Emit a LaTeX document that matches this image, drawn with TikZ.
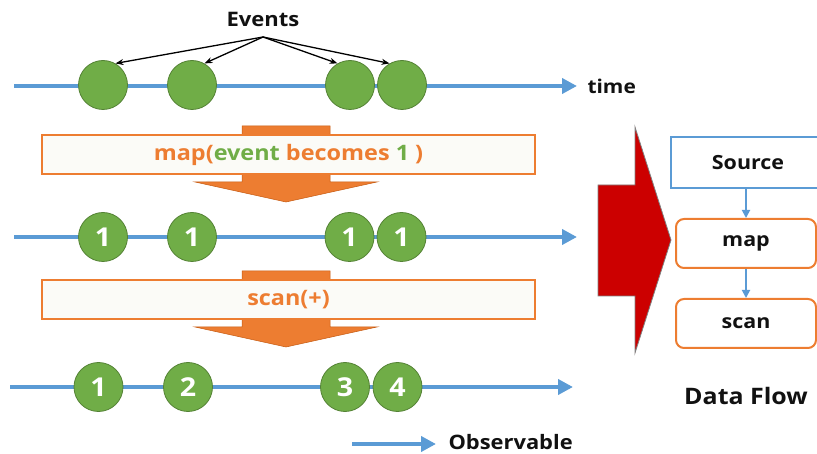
\documentclass[tikz,border=0pt]{standalone}
\usepackage{fontspec}
\setmainfont{Open Sans}[BoldFont={Open Sans Bold}, FakeStretch=1.1]
\usetikzlibrary{arrows.meta}
\definecolor{lineblue}{HTML}{5B9BD5}
\definecolor{evgreen}{HTML}{70AD47}
\definecolor{evgreenline}{HTML}{548235}
\definecolor{opor}{HTML}{ED7D31}
\definecolor{opordark}{HTML}{C55A11}
\definecolor{boxfill}{HTML}{FBFBF7}
\definecolor{flowred}{HTML}{CC0000}
\definecolor{txt}{HTML}{111111}
\newcommand{\fs}[1]{\fontsize{#1}{#1}\selectfont\bfseries}
\tikzset{
  timeline/.style={draw=lineblue, line width=4.5pt, -{Triangle[length=15pt,width=15pt]}},
  event/.style={circle, fill=evgreen, draw=evgreenline, line width=0.8pt, minimum size=49pt, inner sep=0pt,
    text=white, font=\fs{26}},
  label/.style={text=txt, font=\fs{20}},
  pointer/.style={draw=black, line width=1.3pt, -{Stealth[length=8pt,width=6pt]}},
  opbox/.style={draw=opor, fill=boxfill, line width=2.2pt, minimum width=493pt, minimum height=39pt,
    inner sep=0pt, font=\fs{21.3}, text=opor},
  oparrow/.style={fill=opor, draw=opordark, line width=0.5pt},
  flowbox/.style={draw=opor, line width=2pt, rounded corners=8pt, fill=white, minimum width=140pt,
    minimum height=49pt, inner sep=0pt, text=txt, font=\fs{19.5}},
  flowlink/.style={draw=lineblue, line width=1.8pt, -{Triangle[length=8pt,width=8pt]}}
}
\begin{document}
\begin{tikzpicture}[x=1pt,y=-1pt]
\useasboundingbox (0,0) rectangle (817,454);

% first stream: raw events
\coordinate (t1s) at (14,86);
\coordinate (t1e) at (577,86);
\draw[timeline] (t1s) -- (t1e);
\node[label, font=\fs{19}, anchor=west] (time) at (584,86) {time};
\node[event] (a1) at (103,85) {};
\node[event] (a2) at (192,85) {};
\node[event] (a3) at (350,85) {};
\node[event] (a4) at (402,85) {};
\node[label] (events) at (263,19) {Events};
\coordinate (eo) at (263,37);
\draw[pointer] (eo) -- (a1.60);
\draw[pointer] (eo) -- (a2.60);
\draw[pointer] (eo) -- (a3.120);
\draw[pointer] (eo) -- (a4.120);

% map operator
\draw[oparrow] (242,126) -- (330,126) -- (330,182) -- (377,182) -- (286,202) -- (195,182) -- (242,182) -- cycle;
\node[opbox] (mapop) at (288.5,154.5) {map(\textcolor{evgreen}{event} becomes \textcolor{evgreen}{1} )};

% second stream: mapped values
\coordinate (t2s) at (14,237);
\coordinate (t2e) at (577,237);
\draw[timeline] (t2s) -- (t2e);
\node[event] (b1) at (103,237) {1};
\node[event] (b2) at (192,237) {1};
\node[event] (b3) at (349.5,237) {1};
\node[event] (b4) at (401.5,237) {1};

% scan operator
\draw[oparrow] (242,271) -- (330,271) -- (330,327) -- (377,327) -- (286,347) -- (195,327) -- (242,327) -- cycle;
\node[opbox] (scanop) at (288.5,299.5) {scan(+)};

% third stream: running sums
\coordinate (t3s) at (10,387);
\coordinate (t3e) at (573,387);
\draw[timeline] (t3s) -- (t3e);
\node[event] (c1) at (98.5,387) {1};
\node[event] (c2) at (188,387) {2};
\node[event] (c3) at (345,387) {3};
\node[event] (c4) at (397.5,387) {4};

% legend
\coordinate (ls) at (352,444);
\coordinate (le) at (436,444);
\draw[timeline] (ls) -- (le);
\node[label, font=\fs{19.9}, anchor=west] (obs) at (445,442) {Observable};

% big red arrow
\draw[fill=flowred, draw=gray, line width=0.8pt] (598,185) -- (635,185) -- (635,127) -- (671,240) -- (635,353) -- (635,296) -- (598,296) -- cycle;

% data flow chain
\node[draw=lineblue, line width=1.3pt, fill=white, minimum width=154pt, minimum height=51pt, inner sep=0pt,
  text=txt, font=\fs{19.5}] (src) at (748,162.5) {Source};
\node[flowbox] (fmap) at (746,243.5) {map};
\node[flowbox] (fscan) at (746,323.5) {scan};
\draw[flowlink] (src.south -| fmap.north) -- (fmap.north);
\draw[flowlink] (fmap) -- (fscan);
\node[label, font=\fs{22.7}] (df) at (746,396) {Data Flow};
\end{tikzpicture}
\end{document}
